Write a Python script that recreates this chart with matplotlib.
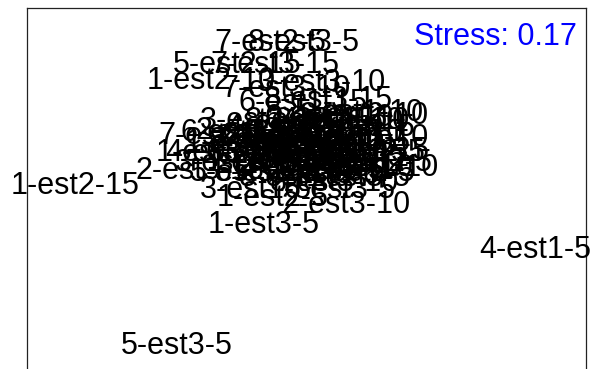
import matplotlib
matplotlib.use("Agg")
import matplotlib.pyplot as plt

# NMDS site scores (two axes), labelled site-estacion-profundidad
sites = [
    "1-est1-5", "1-est1-10", "1-est1-15", "1-est2-5", "1-est2-10", "1-est2-15", "1-est3-5", "1-est3-10", "1-est3-15",
    "2-est1-5", "2-est1-10", "2-est1-15", "2-est2-5", "2-est2-10", "2-est2-15", "2-est3-5", "2-est3-10", "2-est3-15",
    "3-est1-5", "3-est1-10", "3-est1-15", "3-est2-5", "3-est2-10", "3-est2-15", "3-est3-5", "3-est3-10", "3-est3-15",
    "4-est1-5", "4-est1-10", "4-est1-15", "4-est2-5", "4-est2-10", "4-est2-15", "4-est3-5", "4-est3-10", "4-est3-15",
    "5-est1-5", "5-est1-10", "5-est1-15", "5-est2-5", "5-est2-10", "5-est2-15", "5-est3-5", "5-est3-10", "5-est3-15",
    "6-est1-5", "6-est1-10", "6-est1-15", "6-est2-5", "6-est2-10", "6-est2-15", "6-est3-5", "6-est3-10", "6-est3-15",
    "7-est1-5", "7-est1-10", "7-est1-15", "7-est2-5", "7-est2-10", "7-est2-15", "7-est3-5", "7-est3-10", "7-est3-15",
    "8-est1-5", "8-est1-10", "8-est1-15", "8-est2-5", "8-est2-10", "8-est2-15", "8-est3-5", "8-est3-10", "8-est3-15",
]

nmds1 = [
    -0.035, 0.115, -0.185, -0.17, -0.475, -1.16, -0.215, -0.43, -0.285,
    0.215, 0.065, -0.135, 0.265, -0.035, -0.235, 0.115, 0.20, -0.535,
    -0.255, 0.165, 0.015, 0.315, -0.085, -0.335, 0.09, 0.075, -0.21,
    1.145, 0.19, 0.29, 0.35, 0.04, -0.16, 0.24, -0.085, -0.385,
    0.14, 0.265, -0.01, 0.265, -0.135, -0.345, -0.65, 0.09, -0.26,
    0.165, 0.29, -0.02, -0.035, 0.215, -0.31, 0.165, 0.115, -0.185,
    0.015, 0.34, -0.11, -0.18, 0.065, -0.42, 0.24, -0.105, -0.16,
    -0.06, 0.165, 0.19, -0.21, 0.29, 0.015, -0.015, 0.14, 0.11,
]

nmds2 = [
    0.19, 0.24, 0.14, -0.035, 0.55, 0.025, -0.17, 0.19, 0.24,
    0.165, 0.315, 0.265, 0.09, 0.115, 0.30, 0.10, -0.07, 0.10,
    0.005, 0.29, 0.215, 0.19, 0.18, 0.14, 0.08, 0.54, 0.35,
    -0.295, 0.35, 0.20, 0.14, 0.15, 0.215, 0.24, 0.315, 0.19,
    0.13, 0.39, 0.265, 0.315, 0.09, 0.63, -0.775, 0.19, 0.09,
    0.215, 0.265, 0.44, 0.29, 0.115, 0.29, 0.005, 0.365, 0.19,
    0.14, 0.115, 0.24, 0.74, 0.24, 0.275, 0.065, 0.51, 0.63,
    0.065, 0.35, 0.19, 0.25, 0.375, 0.35, 0.74, 0.04, 0.455,
]

stress = 0.17

plt.rcParams['font.family'] = ['Liberation Sans', 'DejaVu Sans']

fig = plt.figure(figsize=(5.93, 3.69), dpi=100)
W, H = 593, 369
# el marco del grafico sigue por debajo del borde inferior
ax = fig.add_axes([27 / W, (H - 408) / H, 559 / W, 400 / H])
ax.set_xlim(-1.4, 1.4)
ax.set_ylim(-1.0875, 0.9125)

for lab, x, y in zip(sites, nmds1, nmds2):
    ax.text(x, y, lab, fontsize=22, ha='center', va='center', color='black', clip_on=False)

ax.text(0.984, 0.928, f"Stress: {stress:.2f}", transform=ax.transAxes,
        fontsize=22, color='blue', ha='right', va='center')

ax.set_xticks([])
ax.set_yticks([])
for sp in ax.spines.values():
    sp.set_linewidth(0.9)
    sp.set_color('#222222')

fig.savefig("out.png", dpi=100)
